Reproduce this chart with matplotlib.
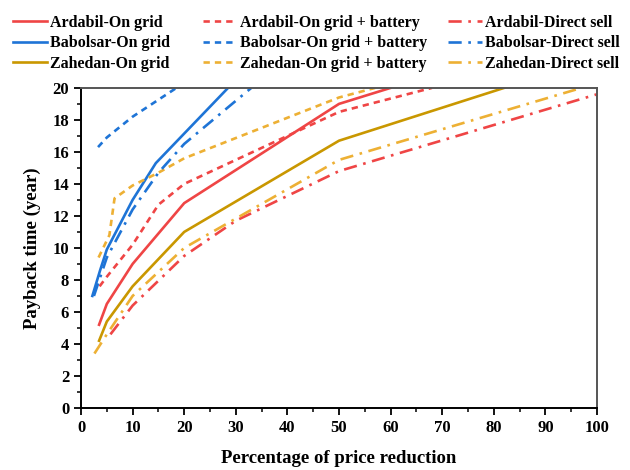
import matplotlib
matplotlib.use('Agg')
import matplotlib.pyplot as plt
from matplotlib.ticker import MultipleLocator

plt.rcParams['font.family'] = ['Liberation Serif', 'DejaVu Serif']
plt.rcParams['font.weight'] = 'bold'

# data (x = % price reduction, y = payback years)
ard_grid_x = [3.5, 5, 10, 20, 50, 60]
ard_grid_y = [5.2, 6.5, 9.0, 12.8, 19.0, 20.0]
ard_batt_x = [3.6, 5, 10, 15, 20, 50, 68]
ard_batt_y = [7.6, 8.2, 10.2, 12.7, 14.0, 18.5, 20.0]
ard_sell_x = [5.7, 10, 20, 30, 50, 100]
ard_sell_y = [4.6, 6.4, 9.5, 11.7, 14.8, 19.6]

bab_grid_x = [2.2, 3.7, 5, 10, 14.5, 28.5]
bab_grid_y = [7.0, 8.6, 9.9, 13.0, 15.3, 20.0]
bab_batt_x = [3.3, 5, 10, 18.5]
bab_batt_y = [16.3, 16.9, 18.2, 20.0]
bab_sell_x = [2.5, 5, 10, 15, 20, 33]
bab_sell_y = [7.0, 9.4, 12.4, 14.7, 16.5, 20.0]

zah_grid_x = [3.5, 5, 10, 20, 50, 82]
zah_grid_y = [4.2, 5.4, 7.6, 11.0, 16.7, 20.0]
zah_batt_x = [3.4, 5.5, 6.5, 10, 15, 20, 50, 57]
zah_batt_y = [9.4, 10.8, 13.1, 13.9, 14.7, 15.6, 19.4, 20.0]
zah_sell_x = [2.6, 5, 10, 20, 50, 97]
zah_sell_y = [3.4, 4.6, 7.0, 10.0, 15.5, 20.0]

c_red = '#EF4545'
c_blue = '#1E74D6'
c_gold = '#C99700'
c_orange = '#EDB034'

ls_grid = '-'
ls_batt = (0, (2.4, 1.9))
ls_sell = (0, (5, 2.5, 1, 2.5))

fig = plt.figure(figsize=(6.3, 4.7), dpi=100)
ax = fig.add_axes([0.1286, 0.132, 0.819, 0.681])

lw = 1.9
series = [
    (ard_grid_x, ard_grid_y, c_red, ls_grid, 'Ardabil-On grid'),
    (bab_grid_x, bab_grid_y, c_blue, ls_grid, 'Babolsar-On grid'),
    (zah_grid_x, zah_grid_y, c_gold, ls_grid, 'Zahedan-On grid'),
    (ard_batt_x, ard_batt_y, c_red, ls_batt, 'Ardabil-On grid + battery'),
    (bab_batt_x, bab_batt_y, c_blue, ls_batt, 'Babolsar-On grid + battery'),
    (zah_batt_x, zah_batt_y, c_orange, ls_batt, 'Zahedan-On grid + battery'),
    (ard_sell_x, ard_sell_y, c_red, ls_sell, 'Ardabil-Direct sell'),
    (bab_sell_x, bab_sell_y, c_blue, ls_sell, 'Babolsar-Direct sell'),
    (zah_sell_x, zah_sell_y, c_orange, ls_sell, 'Zahedan-Direct sell'),
]
handles = []
for x, y, c, ls, lab in series:
    h, = ax.plot(x, y, color=c, linestyle=ls, lw=lw, label=lab)
    handles.append(h)

ax.set_xlim(0, 100)
ax.set_ylim(0, 20)
ax.xaxis.set_major_locator(MultipleLocator(10))
ax.xaxis.set_minor_locator(MultipleLocator(5))
ax.yaxis.set_major_locator(MultipleLocator(2))
ax.yaxis.set_minor_locator(MultipleLocator(1))
ax.tick_params(which='major', direction='out', length=5, width=1.3, labelsize=12)
ax.tick_params(which='minor', direction='out', length=3, width=1.1)
ax.tick_params(top=False, right=False)

for s in ['left', 'bottom']:
    ax.spines[s].set_linewidth(1.4)
    ax.spines[s].set_color('black')
for s in ['top', 'right']:
    ax.spines[s].set_linewidth(1.4)
    ax.spines[s].set_color('#555555')

ax.set_xlabel('Percentage of price reduction', fontsize=13.5, fontweight='bold', labelpad=10)
ax.set_ylabel('Payback time (year)', fontsize=13.5, fontweight='bold', labelpad=8)

# three legend columns placed separately (uneven gaps in the original)
col_x = [13 / 630, 203 / 630, 448 / 630]
for i, x0 in enumerate(col_x):
    fig.legend(handles=handles[3 * i:3 * i + 3], loc='upper left',
               bbox_to_anchor=(x0, 0.968), frameon=False, fontsize=11.5,
               handlelength=2.1, handletextpad=0.2, labelspacing=0.27,
               borderpad=0.0, borderaxespad=0.0)

fig.savefig('out.png', dpi=100)
